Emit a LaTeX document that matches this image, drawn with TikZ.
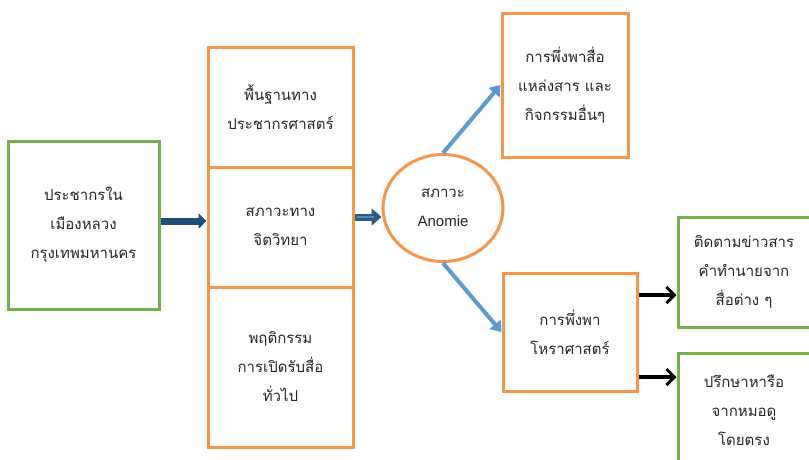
\documentclass[tikz,border=0pt]{standalone}
\usepackage{fontspec}
\newfontfamily\thai[Script=Thai]{Loma}
\newfontfamily\lat{Liberation Sans}
\usetikzlibrary{arrows.meta,shapes.geometric}
\definecolor{orng}{HTML}{F79646}
\definecolor{grn}{HTML}{74B04A}
\definecolor{lblue}{HTML}{5B9BD5}
\definecolor{dblue}{HTML}{1F4E79}
\definecolor{mblue}{HTML}{2E5C8A}
\definecolor{iblue}{HTML}{5A86B8}
\tikzset{
  txt/.style={font=\thai\fontsize{15}{29}\selectfont, align=center, text=black!85},
  obox/.style={txt, draw=orng, line width=3pt, rectangle, inner sep=0pt},
  gbox/.style={txt, draw=grn, line width=3pt, rectangle, inner sep=0pt},
  lbarrow/.style={draw=lblue, line width=4pt, -{Triangle[length=10pt,width=14pt]}},
  blkarrow/.style={draw=black, line width=4pt, -{Straight Barb[length=8pt,width=16pt,line width=3pt]}},
}
\begin{document}
\begin{tikzpicture}[x=1pt,y=-1pt]
\useasboundingbox (0,0) rectangle (809,459);
\clip (0,0) rectangle (809,459);
\node[gbox, minimum width=151pt, minimum height=168pt] (pop) at (83.5,225) {ประชากรใน\\เมืองหลวง\\กรุงเทพมหานคร};
\node[obox, minimum width=145pt, minimum height=120pt] (demo) at (280.5,107) {พื้นฐานทาง\\ประชากรศาสตร์};
\node[obox, minimum width=145pt, minimum height=120pt] (psy) at (280.5,227) {สภาวะทาง\\จิตวิทยา};
\node[obox, minimum width=145pt, minimum height=160pt] (media) at (280.5,367) {พฤติกรรม\\การเปิดรับสื่อ\\ทั่วไป};
\node[obox, ellipse, minimum width=120pt, minimum height=107pt] (anom) at (443,208) {สภาวะ\\{\lat Anomie}};
\node[obox, minimum width=126pt, minimum height=144pt] (dep) at (565,85) {การพึ่งพาสื่อ\\แหล่งสาร และ\\กิจกรรมอื่นๆ};
\node[obox, minimum width=134pt, minimum height=118pt] (astro) at (570,332) {การพึ่งพา\\โหราศาสตร์};
\node[gbox, minimum width=132pt, minimum height=110pt] (news) at (744,272) {ติดตามข่าวสาร\\คำทำนายจาก\\สื่อต่าง ๆ};
\node[gbox, minimum width=132pt, minimum height=114pt] (consult) at (744,410) {ปรึกษาหารือ\\จากหมอดู\\โดยตรง};
% connectors
\draw[draw=dblue, line width=7pt, -{Triangle[length=8pt,width=15pt]}] ([yshift=4pt]pop.east) -- ([yshift=6pt]psy.west);
\draw[draw=mblue, line width=7pt, -{Triangle[length=10pt,width=17pt]}] ([yshift=10pt]psy.east) -- ([yshift=10pt]psy.east -| anom.west);
\draw[draw=iblue, line width=2.5pt] ([yshift=10pt,xshift=2pt]psy.east) -- ([yshift=10pt,xshift=-8pt]psy.east -| anom.west);
\draw[lbarrow] (anom.north) -- (dep.west);
\draw[lbarrow] (anom.south) -- (astro.west);
\draw[blkarrow] ([yshift=37pt]astro.east) -- ([yshift=37pt]astro.east -| news.west);
\draw[blkarrow] ([yshift=-45pt]astro.east) -- ([yshift=-45pt]astro.east -| consult.west);
\end{tikzpicture}
\end{document}
